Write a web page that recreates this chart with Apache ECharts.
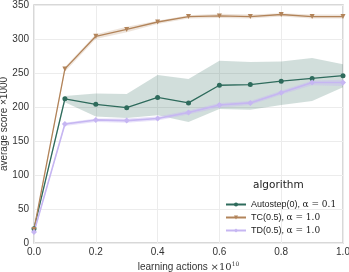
<!DOCTYPE html>
<html><head><meta charset="utf-8">
<script src="https://cdn.jsdelivr.net/npm/echarts@6/dist/echarts.min.js"></script>
<style>html,body{margin:0;padding:0;background:#fff}#c{width:349px;height:272px}</style>
</head><body><div id="c"></div>
<script>
const xs = [0.0, 0.1, 0.2, 0.3, 0.4, 0.5, 0.6, 0.7, 0.8, 0.9, 1.0];
const autoMean = [21, 212, 204, 199, 214, 206, 232, 233, 238, 242, 246];
const autoLow  = [18, 207, 186, 184, 188, 178, 197, 196, 203, 209, 229];
const autoHigh = [24, 216, 220, 219, 247, 241, 268, 266, 267, 272, 263];
const tcMean = [20, 256, 304, 314, 325, 333, 334, 333, 336, 333, 333];
const tcLow  = [18, 252, 300, 310, 322, 330, 331, 330, 333, 330, 330];
const tcHigh = [22, 259, 307, 318, 327, 335, 337, 336, 338, 336, 336];
const tdMean = [16, 175, 181, 180, 183, 192, 203, 206, 221, 236, 236];
const tdLow  = [14, 172, 178, 177, 180, 189, 199, 203, 218, 232, 231];
const tdHigh = [18, 177, 183, 183, 186, 195, 206, 209, 224, 239, 240];
const yTicks = [0, 50, 100, 150, 200, 250, 300, 350];
const names = ['Autostep(0)', 'TC(0.5)', 'TD(0.5)'];
const alphas = ['0.1', '1.0', '1.0'];

const colors = ['#2e6b5c', '#b2845a', '#c6b6f2'];
const bandColors = ['rgba(46,107,92,0.22)', 'rgba(178,132,90,0.22)', 'rgba(198,182,242,0.4)'];
const F = 'Liberation Sans, Arial, sans-serif';
const M = 'DejaVu Serif, Liberation Serif, serif';

function pairs(arr){ return xs.map((x,i)=>[x,arr[i]]); }
function band(idx, low, high){
  return {
    type:'custom', silent:true, z:1,
    data: xs.map((x,i)=>[x, low[i], high[i]]),
    encode:{x:0, y:[1,2]},
    renderItem:(params, api) => {
      if (params.dataIndex !== 0) return null;
      const top = xs.map((x,i)=>api.coord([x, high[i]]));
      const bot = xs.map((x,i)=>api.coord([x, low[i]])).reverse();
      return {type:'polygon', shape:{points: top.concat(bot)}, style:{fill: bandColors[idx], stroke:'none'}};
    }
  };
}
const means = [autoMean, tcMean, tdMean];
const lows = [autoLow, tcLow, tdLow];
const highs = [autoHigh, tcHigh, tdHigh];
const symbols = ['circle', 'triangle', 'diamond'];
const rot = [0, 180, 0];
let series = [];
for (let i=0;i<3;i++) series.push(band(i, lows[i], highs[i]));
for (let i=0;i<3;i++) series.push({
  name: names[i], type:'line', data: pairs(means[i]), symbol: symbols[i], symbolRotate: rot[i],
  symbolSize: i===2?6:5, color: colors[i], lineStyle:{width:i===2?1.6:1.3, color:colors[i]}, itemStyle:{color:colors[i]}, z:3
});

const chart = echarts.init(document.getElementById('c'));
chart.setOption({
  animation:false,
  grid:{left:34, right:6, top:5, bottom:29, outerBoundsMode:'none', containLabel:false, show:true, borderColor:'#cccccc', borderWidth:1.5},
  xAxis:{type:'value', min:0, max:1, interval:0.2,
    axisLine:{show:false}, axisTick:{show:false},
    splitLine:{lineStyle:{color:'#ececec', width:1}},
    axisLabel:{formatter:v=>v.toFixed(1), color:'#333', fontFamily:F, fontSize:10, margin:4},
    name:'learning actions {m|×10}{s|10}', nameLocation:'middle', nameGap:18, nameMoveOverlap:false,
    nameTextStyle:{color:'#333', fontFamily:F, fontSize:10, rich:{m:{fontFamily:M, fontSize:10, color:'#333'}, s:{fontFamily:M, fontSize:6, color:'#333', verticalAlign:'bottom', padding:[0,0,7,0]}}}
  },
  yAxis:{type:'value', min:0, max:350, interval:50,
    axisLine:{show:false}, axisTick:{show:false},
    splitLine:{lineStyle:{color:'#ececec', width:1}},
    axisLabel:{color:'#333', fontFamily:F, fontSize:10, margin:5, formatter:v=>yTicks.includes(v)?String(v):''},
    name:'average score {m|×1000}', nameLocation:'middle', nameGap:25, nameMoveOverlap:false,
    nameTextStyle:{color:'#333', fontFamily:F, fontSize:10, rich:{m:{fontFamily:F, fontSize:10, color:'#333'}}}
  },
  legend:{orient:'vertical', left:220, top:195, itemWidth:20, itemHeight:5, itemGap:4,
    data:names, selectedMode:false,
    formatter: n => { const i = names.indexOf(n); return n + ', {m|α = ' + alphas[i] + '}'; },
    textStyle:{fontFamily:F, fontSize:9, color:'#222', rich:{m:{fontFamily:M, fontSize:9, fontStyle:'normal', color:'#222'}}}
  },
  graphic:[{type:'text', left:253, top:180, z:10, style:{text:'algorithm', fontFamily:'DejaVu Sans, sans-serif', fontSize:10.5, fill:'#222'}}],
  series: series
});
</script></body></html>
